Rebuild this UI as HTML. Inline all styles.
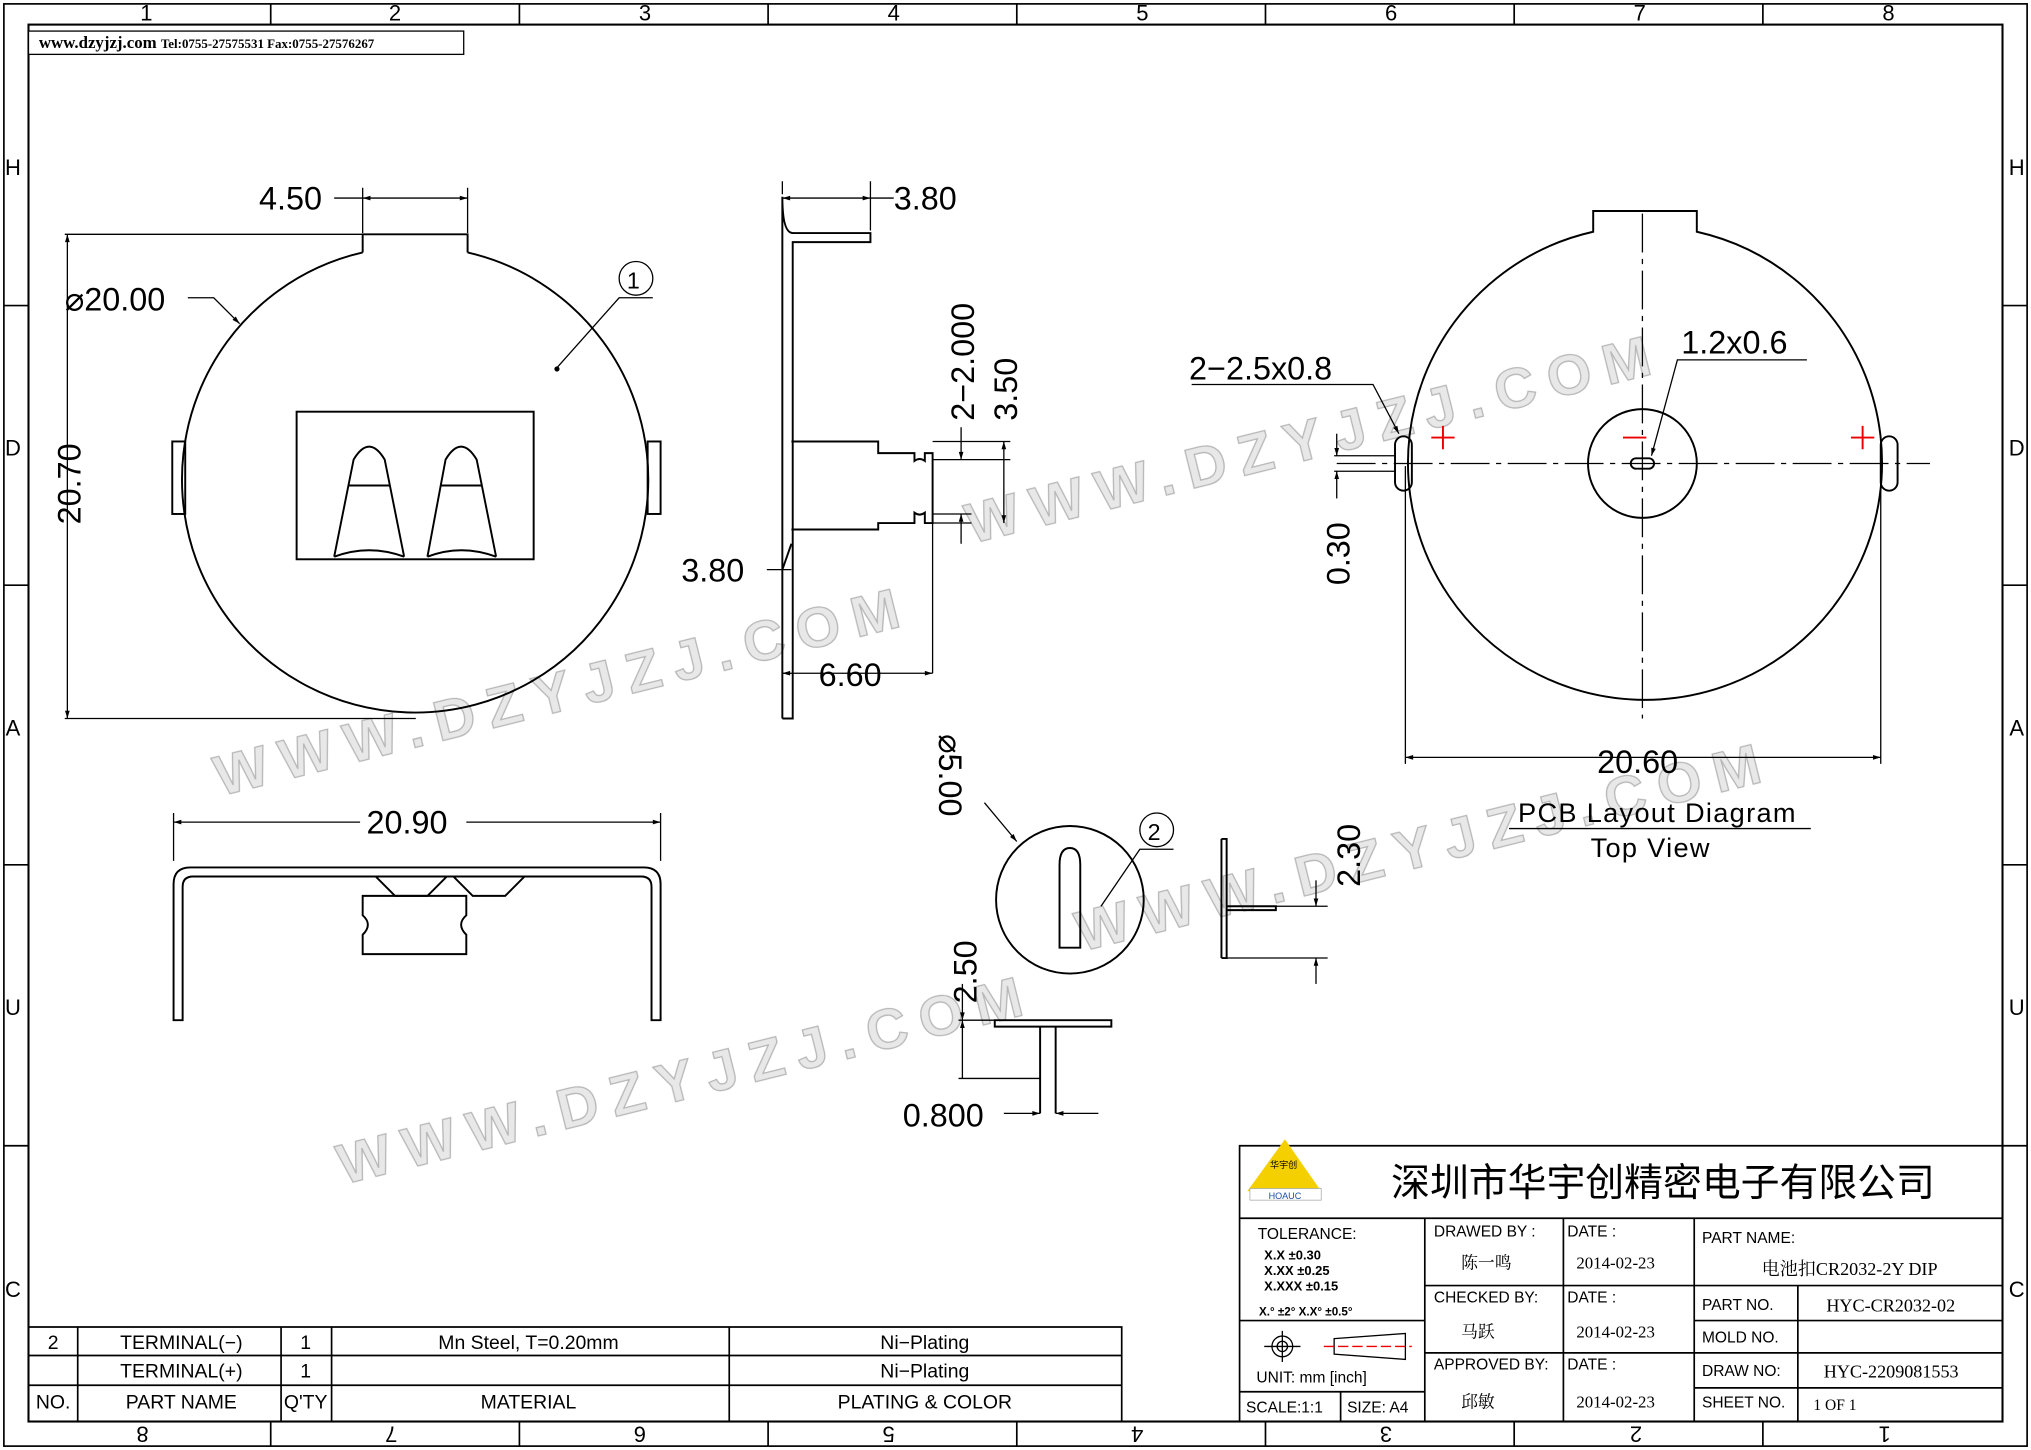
<!DOCTYPE html>
<html><head><meta charset="utf-8"><style>html,body{margin:0;padding:0;background:#fff}svg{display:block}</style></head><body>
<svg width="2031" height="1450" viewBox="0 0 1568 1120" preserveAspectRatio="none" xmlns="http://www.w3.org/2000/svg" font-family="'Liberation Sans','Noto Sans CJK SC',sans-serif">
<defs><marker id="a" viewBox="0 0 10 10" refX="10" refY="5" markerWidth="8" markerHeight="6" orient="auto-start-reverse"><path d="M0,2 L10,5 L0,8z" fill="#000"/></marker></defs>
<rect width="1568" height="1120" fill="#fff"/>
<g stroke="#000" fill="none" stroke-width="1.3">
<rect x="3" y="3" width="1562" height="1114"/>
<rect x="22" y="19" width="1524" height="1079" stroke-width="1.6"/>
<path d="M209,3v16M401,3v16M593,3v16M785,3v16M977,3v16M1169,3v16M1361,3v16M209,1098v19M401,1098v19M593,1098v19M785,1098v19M977,1098v19M1169,1098v19M1361,1098v19M3,236h19M3,452h19M3,668h19M3,885h19M1546,236h19M1546,452h19M1546,668h19M1546,885h19"/>
</g>
<g font-size="17" text-anchor="middle">
<text x="113" y="16">1</text><text x="305" y="16">2</text><text x="498" y="16">3</text><text x="690" y="16">4</text><text x="882" y="16">5</text><text x="1074" y="16">6</text><text x="1266" y="16">7</text><text x="1458" y="16">8</text>
<g transform="rotate(180 784 1108)"><text x="113" y="1114">1</text><text x="305" y="1114">2</text><text x="498" y="1114">3</text><text x="690" y="1114">4</text><text x="882" y="1114">5</text><text x="1074" y="1114">6</text><text x="1266" y="1114">7</text><text x="1458" y="1114">8</text></g>
<text x="10" y="135">H</text><text x="10" y="352">D</text><text x="10" y="568">A</text><text x="10" y="784">U</text><text x="10" y="1002">C</text>
<text x="1557" y="135">H</text><text x="1557" y="352">D</text><text x="1557" y="568">A</text><text x="1557" y="784">U</text><text x="1557" y="1002">C</text>
</g>
<rect x="22" y="24" width="336" height="18" fill="#fff" stroke="#000"/>
<text x="30" y="37" font-family="'Liberation Serif',serif" font-size="13" font-weight="bold">www.dzyjzj.com <tspan font-size="10">Tel:0755-27575531  Fax:0755-27576267</tspan></text>

<g font-size="44" fill="#e4e4e4" stroke="#aaa" stroke-width="1" letter-spacing="10" font-weight="bold" opacity="0.85">
<text transform="translate(170,615) rotate(-14)">WWW.DZYJZJ.COM</text>
<text transform="translate(265,915) rotate(-14)">WWW.DZYJZJ.COM</text>
<text transform="translate(750,420) rotate(-14)">WWW.DZYJZJ.COM</text>
<text transform="translate(835,735) rotate(-14)">WWW.DZYJZJ.COM</text>
</g>

<g stroke="#000" fill="none" stroke-width="1.5">
<path d="M280,195 A180,180 0 1 0 361,195"/>
<path d="M280,195V181H361V195"/>
<rect x="133" y="341" width="10" height="56"/><rect x="500" y="341" width="10" height="56"/>
<rect x="229" y="318" width="183" height="114"/>
<path d="M258,430 L273,355 Q285,335 297,355 L312,430"/><path d="M330,430 L344,355 Q356,335 368,355 L383,430"/>
<path d="M269,375h32M340,375h32"/>
<path d="M258,430 Q285,420 312,430M330,430 Q356,420 383,430"/>
</g>
<g stroke="#000" stroke-width="1" fill="none">
<path d="M280,180V145M361,180V145M258,153H280" /><path d="M280,153H361" marker-start="url(#a)" marker-end="url(#a)"/>
<path d="M50,181H280M50,555H321"/><path d="M52,181V555" marker-start="url(#a)" marker-end="url(#a)"/>
<path d="M145,230H165L185,250" marker-end="url(#a)"/>
<circle cx="491" cy="215" r="13"/><path d="M504,230H478L430,284"/><circle cx="430" cy="285" r="1.5" fill="#000"/>
</g>
<g font-size="25" fill="#000">
<text x="200" y="162">4.50</text>
<text x="50" y="240">⌀20.00</text>
<text transform="translate(62,405) rotate(-90)">20.70</text>
<text x="484" y="223" font-size="18">1</text>
</g>

<g stroke="#000" fill="none" stroke-width="1.5">
<path d="M604,555V152Q604,180 612,180H672V187H612V555H604"/>
<path d="M611,341H678V350H706V356Q710,353 714,356V350H720V404H714V396Q710,399 706,396V404H678V409H611"/>
<path d="M611,420L604,440"/>
</g>
<g stroke="#000" stroke-width="1" fill="none">
<path d="M604,150V140M672,178V140"/><path d="M604,153H672" marker-start="url(#a)" marker-end="url(#a)"/><path d="M672,153H690"/>
<path d="M720,355H780M720,397H750M720,341H780M720,404H750M720,520V404"/>
<path d="M742,330V355" marker-end="url(#a)"/><path d="M742,420V397" marker-end="url(#a)"/>
<path d="M775,341V404" marker-start="url(#a)" marker-end="url(#a)"/>
<path d="M592,440H611" /><path d="M604,520H720" marker-start="url(#a)" marker-end="url(#a)"/>
</g>
<g font-size="25">
<text x="690" y="162">3.80</text>
<text transform="translate(752,325) rotate(-90)">2−2.000</text>
<text transform="translate(785,325) rotate(-90)">3.50</text>
<text x="526" y="449">3.80</text>
<text x="632" y="530">6.60</text>
</g>

<g stroke="#000" fill="none" stroke-width="1.5">
<path d="M134,788V683Q134,670 147,670H497Q510,670 510,683V788H503V685Q503,677 495,677H149Q141,677 141,685V788Z"/>
<path d="M290,677L305,692H330L345,677M350,677L365,692H390L405,677"/>
<path d="M280,692H360V707Q352,714 360,722V737H280V722Q288,714 280,707Z"/>
</g>
<g stroke="#000" stroke-width="1"><path d="M134,665V628M510,665V628"/><path d="M134,635H510" marker-start="url(#a)" marker-end="url(#a)"/></g>
<rect x="278" y="622" width="82" height="26" fill="#fff"/><text x="283" y="644" font-size="25">20.90</text>

<g stroke="#000" fill="none" stroke-width="1.5">
<circle cx="826" cy="695" r="57"/>
<path d="M818,732V668Q818,655 826,655Q834,655 834,668V732Z"/>
<path d="M943,648V740M943,648H947V740H943M947,700H985V703H947"/>
<path d="M768,788H858V793H768ZM803,793V860M815,793V860"/>
</g>
<g stroke="#000" stroke-width="1" fill="none">
<circle cx="893" cy="641" r="13"/><path d="M906,656H880L850,700"/>
<path d="M760,620L785,650" marker-end="url(#a)"/>
<path d="M985,700H1025M947,740H1025"/><path d="M1016,680V700" marker-end="url(#a)"/><path d="M1016,760V740" marker-end="url(#a)"/>
<path d="M740,788H800M740,833H803"/><path d="M743,760V788" marker-end="url(#a)"/><path d="M743,833V788" marker-end="url(#a)"/>
<path d="M775,860H803" marker-end="url(#a)"/><path d="M848,860H815" marker-end="url(#a)"/>
</g>
<g font-size="25">
<text x="886" y="649" font-size="18">2</text>
<text transform="translate(725,567) rotate(90)">⌀5.00</text>
<text transform="translate(1050,685) rotate(-90)">2.30</text>
<text transform="translate(754,775) rotate(-90)">2.50</text>
<text x="697" y="870">0.800</text>
</g>

<g stroke="#000" fill="none" stroke-width="1.5">
<path d="M1230,179A183,183 0 1 0 1310,179V163H1230Z" />
<circle cx="1268" cy="358" r="42"/>
<rect x="1077" y="337" width="13" height="42" rx="6.5"/><rect x="1452" y="337" width="13" height="42" rx="6.5"/>
<rect x="1259" y="354" width="18" height="8" rx="4"/>
</g>
<g stroke="#000" stroke-width="1" fill="none" stroke-dasharray="30,5,4,5">
<path d="M1032,358H1490M1268,165V555"/>
</g>
<g stroke="#e00" stroke-width="1.5"><path d="M1105,338h18M1114,329v18M1429,338h18M1438,329v18M1253,338h18"/></g>
<g stroke="#000" stroke-width="1" fill="none">
<path d="M1085,360V590M1452,360V590"/><path d="M1085,585H1452" marker-start="url(#a)" marker-end="url(#a)"/>
<path d="M920,297H1060L1080,335" marker-end="url(#a)"/>
<path d="M1395,278H1295L1275,352" marker-end="url(#a)"/>
<path d="M1030,352H1077M1030,364H1077"/><path d="M1032,335V352" marker-end="url(#a)"/><path d="M1032,385V364" marker-end="url(#a)"/>
<path d="M1165,640H1398"/>
</g>
<g font-size="25">
<text x="918" y="293">2−2.5x0.8</text>
<text x="1298" y="273">1.2x0.6</text>
<text transform="translate(1042,452) rotate(-90)">0.30</text>
<text x="1233" y="597">20.60</text>
<text x="1172" y="635" font-size="21" letter-spacing="1">PCB Layout Diagram</text>
<text x="1228" y="662" font-size="21" letter-spacing="1">Top View</text>
</g>

<g stroke="#000" fill="none" stroke-width="1.3">
<path d="M22,1025H866V1098M22,1047H866M22,1070H866M60,1025V1098M217,1025V1098M256,1025V1098M563,1025V1098"/>
</g>
<g font-size="15" text-anchor="middle">
<text x="41" y="1042">2</text><text x="140" y="1042">TERMINAL(−)</text><text x="236" y="1042">1</text><text x="408" y="1042">Mn Steel, T=0.20mm</text><text x="714" y="1042">Ni−Plating</text>
<text x="140" y="1064">TERMINAL(+)</text><text x="236" y="1064">1</text><text x="714" y="1064">Ni−Plating</text>
<text x="41" y="1088">NO.</text><text x="140" y="1088">PART NAME</text><text x="236" y="1088">Q'TY</text><text x="408" y="1088">MATERIAL</text><text x="714" y="1088">PLATING &amp; COLOR</text>
</g>

<g stroke="#000" fill="none" stroke-width="1.3">
<path d="M957,1098V885H1546M957,941H1546M1100,941V1098M1207,941V1098M1308,941V1098M1100,993H1308M1100,1045H1308M957,1020H1100M957,1075H1100M1035,1075V1098M1308,993H1546M1308,1020H1546M1308,1045H1546M1308,1072H1546M1388,993V1098"/>
</g>
<path d="M963,920L992,880L1020,920Z" fill="#f5d000"/><text x="991" y="902" font-size="7" text-anchor="middle">华宇创</text>
<rect x="965" y="918" width="55" height="9" fill="#fff" stroke="#999" stroke-width="0.5"/><text x="992" y="926" font-size="7" fill="#1a4fa0" text-anchor="middle">HOAUC</text>
<text x="1074" y="924" font-size="30" font-family="'Noto Sans CJK SC',sans-serif">深圳市华宇创精密电子有限公司</text>
<g font-size="12">
<text x="971" y="957">TOLERANCE:</text>
<text x="976" y="973" font-size="10" font-weight="bold">X.X     ±0.30</text>
<text x="976" y="985" font-size="10" font-weight="bold">X.XX    ±0.25</text>
<text x="976" y="997" font-size="10" font-weight="bold">X.XXX  ±0.15</text>
<text x="972" y="1016" font-size="9" font-weight="bold">X.° ±2°        X.X° ±0.5°</text>
<text x="970" y="1068">UNIT:  mm  [inch]</text>
<text x="962" y="1091">SCALE:1:1</text><text x="1040" y="1091">SIZE:  A4</text>
<text x="1107" y="955">DRAWED BY :</text><text x="1210" y="955">DATE :</text>
<text x="1107" y="1006">CHECKED BY:</text><text x="1210" y="1006">DATE :</text>
<text x="1107" y="1058">APPROVED BY:</text><text x="1210" y="1058">DATE :</text>
<text x="1314" y="960">PART NAME:</text>
<text x="1314" y="1012">PART NO.</text><text x="1314" y="1037">MOLD NO.</text><text x="1314" y="1063">DRAW NO:</text><text x="1314" y="1087">SHEET NO.</text>
</g>
<g font-size="13" font-family="'Liberation Serif','Noto Serif CJK SC',serif">
<text x="1128" y="980">陈一鸣</text><text x="1128" y="1033">马跃</text><text x="1128" y="1087">邱敏</text>
<text x="1217" y="980">2014-02-23</text><text x="1217" y="1033">2014-02-23</text><text x="1217" y="1087">2014-02-23</text>
<text x="1360" y="985" font-size="14">电池扣CR2032-2Y DIP</text>
<text x="1410" y="1013" font-size="14">HYC-CR2032-02</text>
<text x="1408" y="1064" font-size="14">HYC-2209081553</text>
<text x="1400" y="1089" font-size="12">1 OF 1</text>
</g>
<g stroke="#000" fill="none" stroke-width="1"><circle cx="990" cy="1040" r="8"/><circle cx="990" cy="1040" r="4"/><path d="M976,1040h28M990,1028v24"/><path d="M1030,1034L1085,1030V1050L1030,1046Z"/></g>
<path d="M1022,1040h68" stroke="#e00" stroke-width="1" stroke-dasharray="8,3"/>
</svg>
</body></html>
